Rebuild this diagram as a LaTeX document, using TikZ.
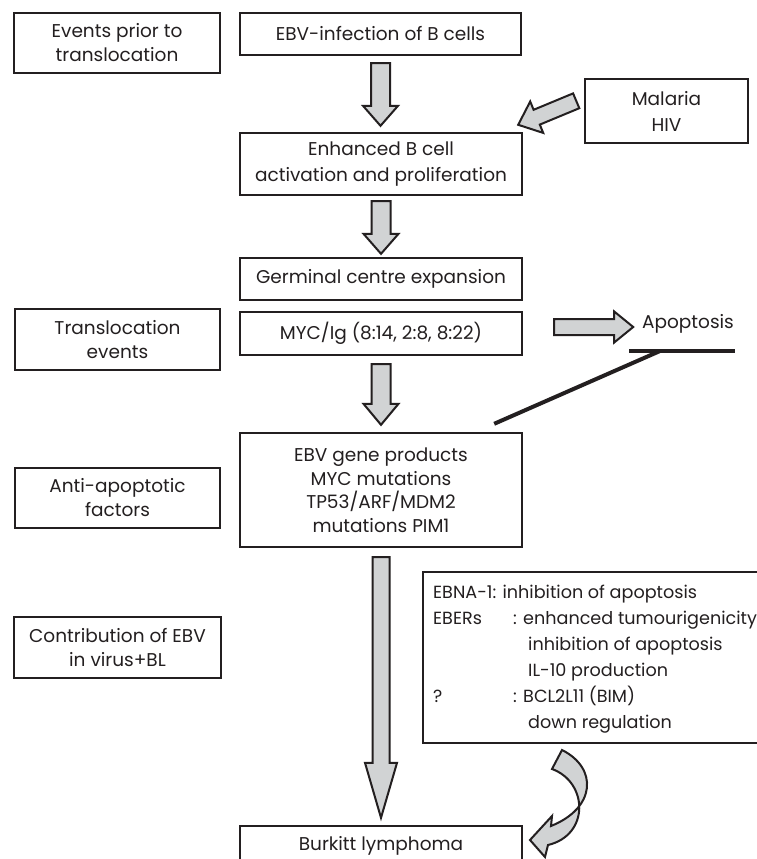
\documentclass[tikz,border=0pt]{standalone}
\usepackage{fontspec}
\setmainfont{Poppins}
\usetikzlibrary{calc}
\definecolor{ink}{HTML}{231F20}
\definecolor{arrowgray}{HTML}{D1D3D4}
\tikzset{
  box/.style={draw=ink, line width=2.4pt, text=ink, align=center, inner sep=0pt,
    font=\fontsize{18.5}{24}\selectfont},
  blk/.style={draw=ink, fill=arrowgray, line width=2pt, line join=miter},
  inhib/.style={draw=ink, line width=4pt},
  plain/.style={text=ink, inner sep=0pt, font=\fontsize{18.5}{24}\selectfont},
}
\newcommand\downblock[7]{%
  \filldraw[blk] let \p1=($(#1.south)+(0,#3)$), \p2=($(#2.north)+(0,-#4)$) in
  (\x1-#6,\y1) -- (\x1+#6,\y1) -- (\x1+#6,\y2+#5) -- (\x1+#7,\y2+#5) -- (\x1,\y2)
  -- (\x1-#7,\y2+#5) -- (\x1-#6,\y2+#5) -- cycle;}
\begin{document}
\begin{tikzpicture}[x=1pt,y=-1pt]
\useasboundingbox (0,0) rectangle (757,859);
\fill[white] (0,0) rectangle (757,859);
\clip (0,0) rectangle (757,859);

% left column
\node[box, minimum width=206, minimum height=60] (prior) at (117,43) {Events prior to\\translocation};
\node[box, minimum width=205, minimum height=61] (transl) at (117.5,339.5) {Translocation\\events};
\node[box, minimum width=205, minimum height=60] (anti) at (117.5,498) {Anti-apoptotic\\factors};
\node[box, minimum width=207, minimum height=61] (contrib) at (117.5,647.5) {Contribution of EBV\\in virus+BL};

% main column
\node[box, minimum width=281, minimum height=42] (ebv) at (380.5,34) {EBV-infection of B cells};
\node[box, minimum width=282, minimum height=62, font=\fontsize{18.5}{26}\selectfont] (enh) at (381,164) {Enhanced B cell\\activation and proliferation};
\node[box, minimum width=282, minimum height=42] (germ) at (381,279) {Germinal centre expansion};
\node[box, minimum width=282, minimum height=43] (myc) at (381,333.5) {MYC/Ig (8:14, 2:8, 8:22)};
\node[box, minimum width=282, minimum height=114, font=\fontsize{18.5}{23.5}\selectfont] (gene) at (381,490)
  {EBV gene products\\MYC mutations\\TP53/ARF/MDM2\\mutations PIM1};
\node[box, minimum width=282, minimum height=40] (burkitt) at (381,846) {Burkitt lymphoma};

% right column
\node[box, minimum width=163, minimum height=64, font=\fontsize{18.5}{26}\selectfont] (malaria) at (666.5,111) {Malaria\\HIV};
\node[plain] (apo) at (688,324) {Apoptosis};
\node[box, anchor=north west, minimum width=348, minimum height=171] (ebna) at (422,571) {};
\node[plain, anchor=west, align=left, font=\fontsize{17.6}{26}\selectfont] (ebnatext)
  at ($(ebna.west)+(11,1)$)
  {EBNA-1: inhibition of apoptosis\\
   \makebox[80pt][l]{EBERs}: enhanced tumourigenicity\\
   \hspace*{95pt}inhibition of apoptosis\\
   \hspace*{95pt}IL-10 production\\
   \makebox[80pt][l]{?}: BCL2L11 (BIM)\\
   \hspace*{95pt}down regulation};

% vertical block arrows
\downblock{ebv}{enh}{7}{6}{20pt}{9.5pt}{17.5pt}
\downblock{enh}{germ}{5}{3}{20pt}{9.5pt}{17.5pt}
\downblock{myc}{gene}{8}{7}{21pt}{9.5pt}{17.5pt}
\downblock{gene}{burkitt}{9}{7}{55pt}{8.5pt}{16pt}

% Malaria/HIV arrow
\coordinate (mt) at ($(enh.north east)+(-5,-7)$);
\begin{scope}[shift={(mt)}]
\filldraw[blk] (0,0) -- (12,-23.3) -- (15.4,-15) -- (54.9,-31.4) -- (61.1,-16.6)
  -- (21.6,-0.2) -- (25,8.1) -- cycle;
\end{scope}

% Apoptosis arrow
\coordinate (apS) at ($(myc.east)+(31,-6.5)$);
\begin{scope}[shift={(apS)}]
\filldraw[blk] (0,-8) -- (60,-8) -- (60,-15.5) -- (79,0) -- (60,15.5) -- (60,8) -- (0,8) -- cycle;
\end{scope}

% inhibition
\coordinate (barL) at (629,351);
\coordinate (barR) at (735,351);
\coordinate (barJ) at (660,351);
\draw[inhib] (barL) -- (barR);
\draw[inhib] (barJ) -- ($(gene.north east)+(-29,-8)$);

% curved arrow
\filldraw[blk] (562,750) .. controls (598,768) and (596,808) .. (551,826)
  -- (552,816) -- (530,840) -- (545,857) -- (548,845)
  .. controls (590,835) and (588,782) .. (552,769) -- cycle;
\end{tikzpicture}
\end{document}
